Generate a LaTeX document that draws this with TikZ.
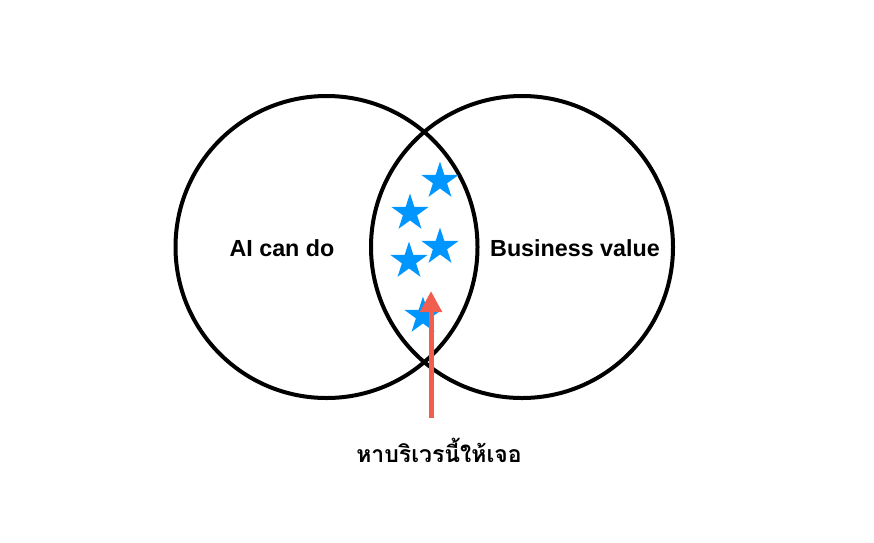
\documentclass[tikz,border=0pt]{standalone}
\usepackage{fontspec}
\setmainfont{Liberation Sans}
\newfontfamily\thaifont[Script=Thai]{Loma}
\usetikzlibrary{shapes.geometric,arrows.meta}
\definecolor{starblue}{RGB}{0,150,255}
\definecolor{arrowred}{RGB}{242,94,78}
\tikzset{
  venn/.style={draw=black,line width=4pt,circle,minimum size=302pt,inner sep=0pt},
  bluestar/.style={star,star points=5,star point ratio=2.618,fill=starblue,draw=none,minimum size=39pt,inner sep=0pt},
  lbl/.style={font=\fontsize{23.3}{27}\selectfont\bfseries},
  pointer/.style={draw=arrowred,line width=5pt,-{Triangle[length=21pt,width=21pt]}}
}
\begin{document}
\begin{tikzpicture}[x=1pt,y=-1pt]
\useasboundingbox (0,0) rectangle (874,542);
\node[venn] (L) at (326.5,247) {};
\node[venn] (R) at (522,247) {};
\node[bluestar] (s1) at (440,181) {};
\node[bluestar] (s2) at (410,213) {};
\node[bluestar] (s3) at (440,247) {};
\node[bluestar] (s4) at (409,261) {};
\node[bluestar] (s5) at (423,316) {};
\node[lbl] (ta) at (282,248) {AI can do};
\node[lbl] (tb) at (575,248) {Business value};
\coordinate (tail) at (431,418);
\coordinate (tip) at (431,291);
\draw[pointer] (tail) -- (tip);
\node[font=\thaifont\bfseries\fontsize{23}{27}\selectfont] (th) at (439,450) {หาบริเวรนี้ให้เจอ};
\end{tikzpicture}
\end{document}
